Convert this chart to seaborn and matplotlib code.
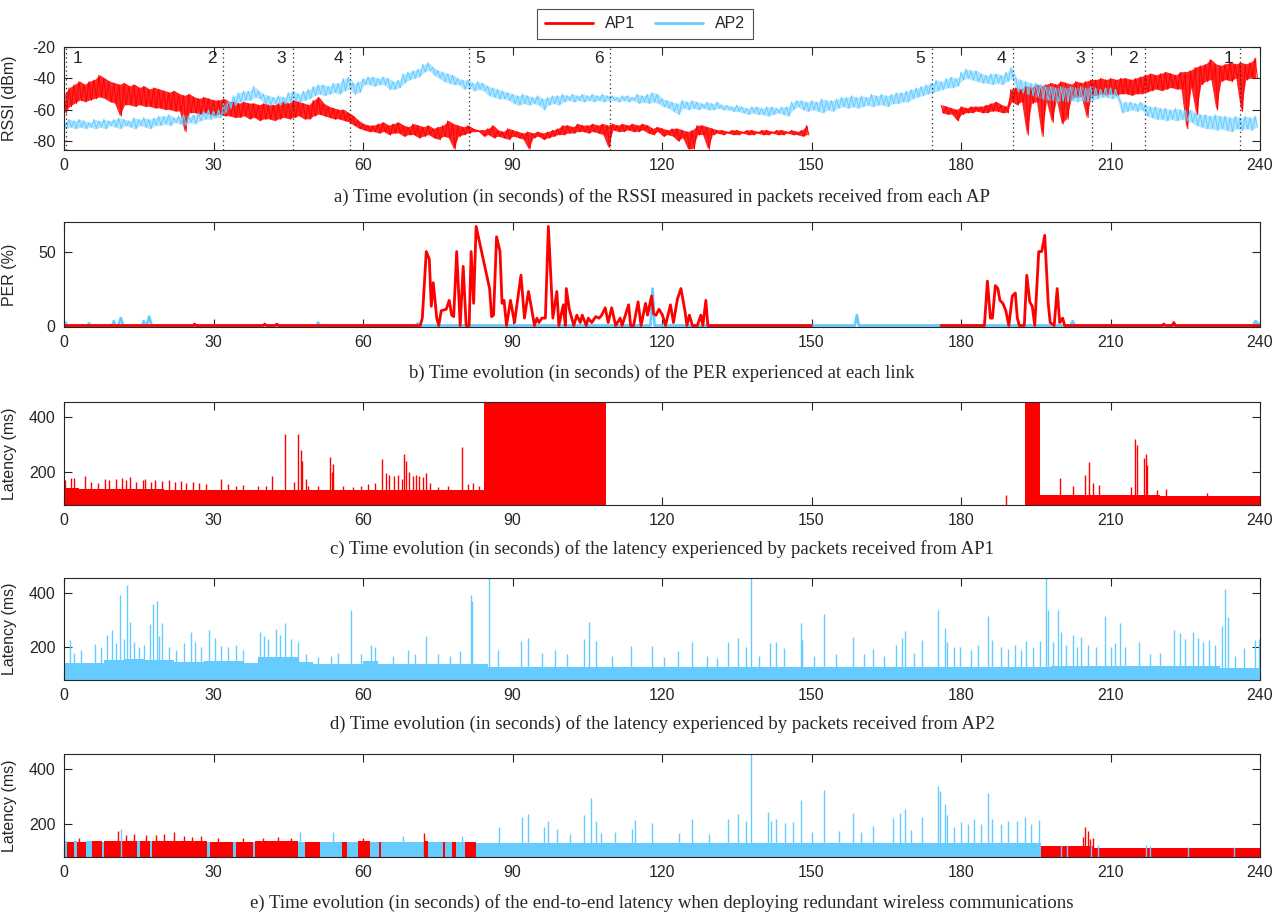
import numpy as np
import pandas as pd
import seaborn as sns
import matplotlib.pyplot as plt
from matplotlib.lines import Line2D

nan = np.nan
RED = '#FF0000'
BLUE = '#66CCFF'

# ---------------- a) RSSI, per-second upper / lower envelope (dBm) ----------------
ap1_hi = [-50, -46, -44, -42, -44, -42, -41, -38, -40, -42,
          -43, -44, -43, -45, -44, -46, -45, -47, -46, -47,
          -48, -49, -48, -50, -51, -50, -52, -53, -52, -53,
          -54, -54, -53, -55, -55, -56, -55, -56, -56, -57,
          -56, -57, -57, -56, -55, -56, -54, -55, -56, -57,
          -54, -52, -56, -58, -59, -60, -60, -62, -64, -67,
          -69, -70, -70, -69, -68, -70, -69, -68, -70, -71,
          -69, -70, -71, -70, -72, -71, -70, -67, -69, -70,
          -71, -70, -72, -73, -73, -72, -70, -73, -74, -72,
          -73, -74, -75, -74, -75, -74, -75, -74, -73, -72,
          -70, -70, -71, -69, -70, -70, -69, -70, -69, -70,
          -69, -70, -69, -70, -69, -70, -69, -70, -72, -71,
          -72, -73, -72, -72, -73, -74, -73, -70, -70, -71,
          -72, -73, -73, -74, -73, -73, -74, -73, -73, -74,
          -73, -73, -74, -73, -73, -74, -73, -74, -73, -70,
          nan, nan, nan, nan, nan, nan, nan, nan, nan, nan,
          nan, nan, nan, nan, nan, nan, nan, nan, nan, nan,
          nan, nan, nan, nan, nan, nan, -57, -58, -59, -60,
          -58, -59, -58, -58, -58, -57, -56, -55, -57, -58,
          -47, -46, -47, -45, -46, -44, -45, -44, -43, -44,
          -42, -43, -44, -42, -43, -42, -41, -41, -40, -41,
          -40, -41, -40, -40, -41, -40, -39, -38, -37, -38,
          -37, -36, -37, -38, -36, -36, -35, -33, -32, -31,
          -28, -31, -32, -31, -30, -31, -30, -31, -30, -27]
ap1_lo = [-62, -58, -56, -54, -55, -54, -53, -52, -53, -55,
          -56, -64, -57, -57, -58, -57, -58, -58, -59, -59,
          -60, -60, -61, -61, -74, -62, -62, -63, -62, -63,
          -64, -63, -64, -64, -65, -65, -64, -66, -65, -67,
          -66, -66, -67, -66, -65, -66, -65, -64, -66, -66,
          -64, -63, -64, -65, -66, -66, -67, -68, -70, -72,
          -73, -74, -74, -75, -74, -76, -75, -75, -77, -76,
          -76, -78, -77, -76, -78, -79, -77, -78, -85, -77,
          -76, -75, -74, -74, -77, -76, -78, -77, -78, -79,
          -77, -78, -79, -85, -78, -77, -79, -78, -77, -76,
          -76, -75, -75, -74, -74, -75, -74, -75, -76, -84,
          -73, -74, -74, -73, -74, -74, -73, -75, -76, -74,
          -77, -76, -77, -80, -78, -85, -85, -76, -76, -85,
          -76, -75, -76, -75, -76, -76, -75, -76, -76, -75,
          -76, -76, -75, -76, -76, -75, -76, -76, -77, -76,
          nan, nan, nan, nan, nan, nan, nan, nan, nan, nan,
          nan, nan, nan, nan, nan, nan, nan, nan, nan, nan,
          nan, nan, nan, nan, nan, nan, -62, -63, -63, -67,
          -63, -62, -62, -61, -62, -62, -61, -61, -62, -62,
          -55, -57, -55, -76, -56, -55, -77, -55, -68, -54,
          -69, -66, -53, -52, -52, -65, -51, -51, -50, -51,
          -50, -51, -50, -50, -51, -50, -50, -49, -48, -47,
          -48, -47, -46, -47, -47, -72, -46, -63, -44, -42,
          -41, -60, -42, -41, -42, -40, -61, -41, -40, -40]
ap2_hi = [-67, -66, -67, -66, -67, -68, -66, -67, -66, -67,
          -66, -65, -66, -67, -65, -66, -65, -66, -65, -64,
          -64, -63, -65, -64, -63, -64, -63, -62, -61, -60,
          -61, -60, -56, -54, -51, -49, -48, -48, -45, -48,
          -50, -51, -52, -51, -52, -49, -48, -50, -48, -47,
          -45, -44, -44, -45, -43, -43, -40, -39, -43, -42,
          -40, -39, -39, -40, -39, -40, -42, -41, -37, -36,
          -35, -34, -31, -30, -33, -35, -36, -37, -38, -40,
          -41, -41, -43, -42, -43, -45, -46, -47, -48, -49,
          -50, -51, -50, -51, -52, -51, -53, -52, -51, -51,
          -50, -51, -50, -51, -50, -51, -50, -51, -50, -51,
          -51, -52, -51, -51, -52, -50, -51, -50, -49, -50,
          -53, -54, -55, -56, -54, -55, -54, -55, -56, -55,
          -56, -55, -57, -57, -58, -57, -58, -59, -58, -58,
          -59, -58, -58, -59, -58, -58, -55, -54, -54, -55,
          -54, -55, -53, -54, -54, -53, -52, -52, -51, -52,
          -51, -52, -50, -51, -50, -51, -50, -49, -49, -48,
          -47, -46, -45, -44, -43, -41, -42, -40, -39, -40,
          -36, -34, -35, -35, -37, -38, -37, -37, -38, -36,
          -33, -40, -41, -42, -43, -43, -44, -45, -45, -46,
          -45, -46, -45, -46, -45, -46, -45, -46, -47, -46,
          -46, -47, -55, -55, -55, -56, -55, -57, -58, -58,
          -59, -59, -60, -59, -60, -60, -60, -62, -63, -63,
          -64, -63, -64, -64, -65, -64, -65, -64, -65, -64]
ap2_lo = [-72, -71, -72, -71, -72, -71, -72, -71, -72, -70,
          -71, -72, -70, -71, -72, -70, -71, -72, -70, -70,
          -69, -70, -68, -69, -70, -68, -69, -67, -66, -66,
          -65, -65, -62, -59, -57, -55, -54, -54, -52, -53,
          -56, -57, -56, -57, -56, -55, -54, -55, -54, -53,
          -51, -50, -51, -50, -49, -50, -48, -47, -50, -49,
          -44, -44, -45, -44, -44, -47, -47, -46, -43, -41,
          -40, -39, -36, -35, -38, -40, -42, -43, -44, -44,
          -47, -46, -48, -47, -48, -51, -52, -53, -53, -54,
          -56, -57, -56, -57, -56, -57, -60, -57, -56, -57,
          -55, -54, -55, -54, -55, -54, -55, -54, -55, -54,
          -54, -55, -54, -55, -54, -56, -55, -56, -55, -56,
          -58, -59, -61, -63, -59, -60, -59, -60, -59, -60,
          -60, -59, -60, -60, -61, -61, -62, -63, -62, -63,
          -63, -64, -63, -62, -63, -64, -60, -58, -60, -61,
          -60, -61, -62, -60, -61, -59, -58, -59, -58, -59,
          -58, -57, -58, -57, -57, -58, -56, -56, -55, -55,
          -53, -52, -51, -50, -49, -48, -47, -46, -46, -45,
          -41, -40, -41, -42, -43, -43, -44, -43, -44, -42,
          -40, -48, -49, -50, -51, -52, -53, -54, -54, -55,
          -54, -55, -54, -55, -54, -55, -54, -53, -52, -52,
          -53, -52, -62, -61, -60, -61, -60, -64, -65, -66,
          -66, -67, -66, -67, -66, -67, -68, -70, -71, -72,
          -72, -73, -72, -73, -74, -72, -73, -72, -73, -71]

# position markers on the RSSI plot
pos_time = [0.4, 32.0, 45.9, 57.3, 81.3, 109.6, 174.1, 190.4, 206.3, 216.9, 235.9]
pos_label = ['1', '2', '3', '4', '5', '6', '5', '4', '3', '2', '1']
pos_side = [1, -1, -1, -1, 1, -1, -1, -1, -1, -1, -1]

# ---------------- b) PER (%) ----------------
per1a_t = [0.4, 26.0, 26.2, 26.5, 40.0, 40.3, 40.6, 42.4, 42.7, 43.0,
           71.5, 71.9, 72.7, 73.3, 73.7, 74.1, 74.8, 75.2, 75.7, 76.7,
           77.3, 77.8, 78.2, 78.8, 79.5, 80.1, 80.7, 81.3, 81.7, 82.2,
           82.7, 85.4, 85.8, 86.2, 86.8, 87.5, 87.9, 88.3, 88.8, 89.6,
           90.4, 91.7, 92.4, 93.2, 93.8, 94.4, 94.9, 95.3, 95.9, 96.6,
           97.2, 98.1, 98.9, 99.3, 100.2, 100.6, 100.8, 101.4, 102.3, 102.9,
           103.6, 104.0, 104.8, 105.2, 105.9, 106.7, 107.4, 107.9, 108.6, 109.2,
           109.9, 110.7, 111.6, 112.0, 113.3, 113.7, 114.3, 115.2, 115.8, 116.7,
           117.1, 117.9, 118.3, 118.8, 119.4, 120.1, 120.7, 121.7, 122.3, 123.1,
           123.8, 124.6, 125.0, 125.5, 126.1, 127.1, 127.8, 128.2, 128.8, 129.2,
           150.0]
per1a_v = [0, 0, 1, 0, 0, 1, 0, 0, 1, 0,
           0, 5, 50, 45, 13, 29, 5, 0, 10, 11,
           17, 7, 6, 50, 0, 40, 0, 0, 50, 15,
           67, 25, 6, 7, 60, 50, 15, 17, 0, 17,
           2, 34, 5, 23, 12, 0, 5, 2, 5, 5,
           67, 5, 23, 0, 14, 0, 25, 11, 0, 7,
           2, 7, 0, 5, 2, 6, 5, 7, 12, 2,
           12, 0, 5, 0, 14, 0, 0, 16, 0, 15,
           7, 20, 8, 7, 11, 7, 0, 14, 2, 18,
           25, 10, 0, 7, 0, 0, 7, 0, 17, 0,
           0]
per1b_t = [176.0, 184.7, 185.3, 185.9, 186.3, 186.9, 187.4, 187.8, 188.4, 189.0,
           189.6, 190.3, 190.9, 191.3, 191.7, 192.7, 193.2, 193.8, 194.3, 194.8,
           195.6, 196.2, 196.8, 197.5, 197.9, 198.7, 199.3, 199.8, 200.4, 200.8,
           220.4, 220.7, 221.0, 222.4, 222.7, 223.0, 240.0]
per1b_v = [0, 0, 30, 5, 5, 27, 25, 17, 15, 10,
           0, 20, 22, 5, 0, 0, 34, 16, 13, 0,
           50, 50, 61, 15, 2, 0, 25, 2, 5, 0,
           0, 1, 0, 0, 2, 0, 0]
per2_t = [0, 0.3, 0.6, 4.7, 5.0, 5.3, 9.7, 10.0, 10.3, 10.9, 11.4, 11.9,
          15.7, 16.0, 16.3, 16.6, 17.1, 17.6, 50.7, 51.0, 51.3, 70.7, 71.0, 71.3,
          117.7, 118.1, 118.5, 158.7, 159.1, 159.5, 202.0, 202.4, 202.8, 238.6, 239.1, 240]
per2_v = [0, 2, 0, 0, 1.5, 0, 0, 3, 0, 0, 5, 0,
          0, 3, 0, 0, 6, 0, 0, 2, 0, 0, 1.5, 0,
          0, 25, 0, 0, 7, 0, 0, 3, 0, 0, 3, 0]

# ---------------- c) latency AP1 (ms): base level per stretch + spikes ----------------
lat1_seg_start = [0, 3, 8, 20, 30, 45, 50, 60, 75, 84.3, 192.8, 195.8, 205, 220]
lat1_seg_end = [3, 8, 20, 30, 45, 50, 60, 75, 84.3, 108.8, 195.8, 205, 220, 240]
lat1_seg_level = [142, 138, 140, 136, 134, 136, 133, 135, 136, 1000, 1000, 118, 115, 112]
lat1_spike_t = [0.3, 1.5, 2.1, 4.2, 5.5, 6.8, 8.3, 9.1, 10.5, 11.6,
                12.4, 13.2, 14.5, 15.8, 16.3, 17.5, 18.2, 19.6, 21.0, 22.3,
                23.5, 24.4, 25.8, 27.0, 28.5, 31.5, 33.0, 34.5, 36.0, 39.0,
                40.5, 41.8, 44.4, 46.2, 47.0, 47.5, 47.8, 48.5, 49.0, 51.0,
                53.3, 53.7, 54.0, 56.0, 58.0, 59.5, 61.0, 62.5, 63.8, 64.7,
                65.3, 66.2, 67.0, 67.8, 68.2, 68.7, 69.3, 70.0, 70.6, 71.3,
                72.0, 72.7, 73.5, 75.0, 77.0, 79.9, 81.0, 82.0, 83.2, 189.0,
                199.8, 202.5, 204.9, 205.6, 206.4, 207.7, 214.2, 215.0, 215.3, 216.8,
                217.1, 217.4, 219.4, 221.1, 229.4]
lat1_spike_v = [170, 180, 178, 185, 165, 160, 175, 172, 175, 180,
                170, 182, 165, 170, 175, 165, 170, 168, 172, 165,
                168, 160, 165, 160, 158, 175, 155, 150, 152, 148,
                150, 185, 340, 165, 337, 280, 240, 175, 150, 150,
                253, 200, 230, 150, 145, 150, 155, 160, 246, 195,
                190, 185, 190, 175, 264, 240, 200, 185, 190, 185,
                182, 195, 160, 145, 150, 291, 155, 160, 150, 115,
                178, 149, 190, 236, 161, 154, 145, 321, 297, 251,
                267, 224, 133, 139, 125]

# ---------------- d) latency AP2 (ms) ----------------
lat2_seg_start = [0, 8, 12, 16, 22, 28, 36, 39, 47, 50, 60, 63, 85, 198, 232]
lat2_seg_end = [8, 12, 16, 22, 28, 36, 39, 47, 50, 60, 63, 85, 198, 232, 240]
lat2_seg_level = [143, 152, 158, 152, 147, 150, 143, 165, 145, 137, 150, 137, 128, 130, 125]
lat2_spike_t = [1.3, 2.0, 3.5, 6.2, 7.5, 8.7, 9.7, 10.4, 11.2, 12.0,
                12.7, 13.3, 14.0, 15.0, 16.0, 17.2, 17.8, 18.6, 19.1, 19.7,
                21.0, 22.5, 24.0, 25.4, 26.3, 27.5, 29.0, 30.3, 31.5, 33.0,
                34.5, 36.0, 39.3, 40.2, 41.0, 42.5, 43.3, 44.4, 45.5, 46.9,
                48.5, 51.0, 53.5, 55.0, 57.5, 59.5, 61.6, 62.5, 66.0, 69.0,
                70.5, 72.7, 75.0, 77.5, 79.5, 81.6, 81.8, 85.2, 87.1, 91.7,
                93.2, 96.0, 98.5, 101.0, 104.4, 105.4, 106.8, 110.0, 113.7, 118.0,
                120.5, 123.3, 126.1, 129.0, 131.0, 133.2, 135.2, 136.9, 137.9, 139.5,
                141.6, 142.8, 144.5, 147.8, 148.0, 150.5, 152.6, 155.0, 158.4, 160.5,
                162.3, 164.5, 166.9, 168.1, 168.7, 170.5, 172.2, 175.3, 176.8, 177.2,
                178.5, 179.7, 182.0, 183.5, 185.5, 186.3, 188.0, 189.5, 190.9, 192.0,
                193.0, 194.5, 195.8, 197.1, 197.5, 198.5, 199.4, 200.0, 201.0, 202.5,
                203.3, 204.1, 205.5, 207.0, 208.9, 210.0, 211.0, 212.0, 213.0, 215.7,
                218.0, 220.0, 222.7, 224.0, 225.0, 226.5, 227.5, 228.5, 229.8, 231.0,
                232.3, 232.9, 233.5, 235.0, 236.8, 238.9, 239.7]
lat2_spike_v = [228, 180, 190, 213, 200, 246, 264, 215, 394, 230,
                428, 295, 220, 200, 210, 285, 361, 370, 240, 289,
                200, 190, 215, 258, 220, 200, 264, 234, 205, 200,
                210, 190, 256, 240, 230, 269, 245, 289, 230, 218,
                175, 165, 170, 180, 337, 175, 210, 200, 170, 190,
                175, 242, 175, 170, 185, 392, 371, 460, 189, 222,
                234, 180, 190, 175, 232, 295, 222, 170, 204, 205,
                165, 187, 221, 170, 160, 221, 235, 202, 460, 170,
                217, 221, 196, 290, 227, 170, 324, 175, 239, 175,
                193, 170, 208, 233, 259, 180, 227, 336, 273, 221,
                200, 200, 190, 210, 314, 227, 200, 195, 208, 190,
                224, 200, 224, 460, 336, 220, 338, 257, 210, 245,
                200, 239, 210, 200, 314, 200, 215, 290, 200, 221,
                175, 180, 265, 253, 230, 257, 235, 220, 227, 210,
                278, 415, 312, 170, 196, 227, 229]

# ---------------- e) end-to-end latency (ms), coloured by delivering AP ----------------
e_seg_start = [0.0, 0.6, 2.0, 2.7, 4.4, 5.6, 7.6, 8.0, 14.6, 15.3,
               17.2, 17.6, 28.6, 29.3, 34.0, 34.6, 38.0, 38.4, 47.0, 48.4,
               51.4, 55.8, 56.8, 58.9, 61.4, 63.3, 63.6, 72.2, 73.0, 76.0,
               76.4, 77.9, 78.7, 80.5, 82.6, 196.0, 206.5]
e_seg_ap = [2, 1, 2, 1, 2, 1, 2, 1, 2, 1,
            2, 1, 2, 1, 2, 1, 2, 1, 2, 1,
            2, 1, 2, 1, 2, 1, 2, 1, 2, 1,
            2, 1, 2, 1, 2, 1, 1]
e_seg_level = [140, 135, 138, 135, 138, 138, 135, 140, 138, 140,
               140, 138, 135, 135, 135, 135, 135, 140, 135, 133,
               133, 133, 133, 138, 133, 133, 135, 140, 133, 133,
               133, 133, 133, 133, 130, 120, 112]
e_spike_t = [0.1, 3.0, 10.8, 11.4, 12.5, 14.0, 16.5, 18.5, 20.0, 22.1,
             24.0, 25.6, 27.5, 31.0, 36.0, 40.0, 43.0, 45.5, 47.3, 53.9,
             60.0, 68.0, 72.3, 79.9, 87.3, 91.9, 93.2, 96.4, 97.2, 98.9,
             101.5, 104.4, 105.7, 106.8, 107.8, 110.5, 113.9, 114.5, 118.0, 123.4,
             126.1, 129.5, 133.2, 135.2, 136.9, 137.9, 141.2, 141.9, 142.8, 144.7,
             146.3, 147.8, 150.0, 152.6, 155.5, 158.4, 160.0, 162.3, 166.4, 167.7,
             168.7, 170.0, 172.2, 175.3, 175.8, 176.8, 177.2, 178.5, 180.1, 181.5,
             182.6, 184.0, 185.5, 186.3, 188.0, 189.5, 191.3, 192.8, 194.0, 195.7,
             200.0, 201.2, 204.5, 204.9, 205.5, 205.8, 206.0, 206.4, 207.4, 217.2,
             218.0, 225.6, 234.7]
e_spike_v = [173, 150, 176, 183, 160, 165, 160, 160, 165, 171,
             158, 153, 155, 150, 150, 150, 152, 150, 171, 170,
             150, 158, 167, 155, 188, 224, 236, 191, 212, 183,
             165, 234, 294, 212, 167, 171, 183, 216, 205, 168,
             217, 165, 217, 237, 210, 460, 244, 211, 217, 205,
             207, 287, 170, 323, 175, 240, 170, 193, 222, 241,
             256, 180, 226, 338, 320, 272, 234, 190, 207, 200,
             217, 200, 313, 220, 201, 210, 211, 226, 200, 213,
             122, 122, 152, 189, 175, 146, 125, 149, 122, 122,
             120, 118, 118]
e_spike_ap = [2, 1, 1, 2, 1, 1, 1, 1, 1, 1,
              1, 1, 1, 1, 1, 1, 1, 1, 2, 2,
              1, 2, 1, 2, 2, 2, 2, 2, 2, 2,
              2, 2, 2, 2, 2, 2, 2, 2, 2, 2,
              2, 2, 2, 2, 2, 2, 2, 2, 2, 2,
              2, 2, 2, 2, 2, 2, 2, 2, 2, 2,
              2, 2, 2, 2, 2, 2, 2, 2, 2, 2,
              2, 2, 2, 2, 2, 2, 2, 2, 2, 2,
              2, 2, 1, 1, 1, 1, 2, 1, 2, 2,
              2, 2, 2]

captions = [
    'a) Time evolution (in seconds) of the RSSI measured in packets received from each AP',
    'b) Time evolution (in seconds) of the PER experienced at each link',
    'c) Time evolution (in seconds) of the latency experienced by packets received from AP1',
    'd) Time evolution (in seconds) of the latency experienced by packets received from AP2',
    'e) Time evolution (in seconds) of the end-to-end latency when deploying redundant wireless communications',
]

sns.set_theme(style='ticks')
plt.rcParams['font.family'] = ['Liberation Sans', 'DejaVu Sans']
plt.rcParams['axes.linewidth'] = 0.8
plt.rcParams['axes.edgecolor'] = '#262626'
plt.rcParams['axes.unicode_minus'] = False

W, H = 1287, 918
fig = plt.figure(figsize=(W / 100, H / 100), dpi=100)
boxes = [(47, 150), (222, 327), (402, 505), (578, 680), (754, 857)]
cap_y = [197, 373, 549, 724, 903]
axes = []
for top, bot in boxes:
    axes.append(fig.add_axes([64 / W, 1 - bot / H, 1196 / W, (bot - top) / H]))

LAT_MIN = 80
ap_color = {1: RED, 2: BLUE}


def zigzag(hi, lo):
    sec = np.arange(len(hi))
    x = np.column_stack([sec, sec + 0.5]).ravel()
    y = np.column_stack([hi, lo]).ravel()
    df = pd.DataFrame({'t': x, 'v': y})
    df['seg'] = df['v'].isna().cumsum()
    return df.dropna()


def draw_latency(ax, s, e, lvl, cols, st, sv, scols):
    s, e, lvl = np.array(s), np.array(e), np.array(lvl)
    ax.bar(s, lvl - LAT_MIN, width=e - s, bottom=LAT_MIN, align='edge',
           color=cols, linewidth=0)
    ax.vlines(st, LAT_MIN, sv, colors=scols, linewidth=1.0)


# a) RSSI
ax = axes[0]
sec = np.arange(240)
for hi, lo, col, fa in [(ap1_hi, ap1_lo, RED, 0.85), (ap2_hi, ap2_lo, BLUE, 0.5)]:
    ax.fill_between(sec + 0.25, hi, lo, color=col, alpha=fa, linewidth=0)
    sns.lineplot(data=zigzag(hi, lo), x='t', y='v', units='seg', estimator=None,
                 sort=False, color=col, linewidth=0.7, ax=ax)
for t, lab, side in zip(pos_time, pos_label, pos_side):
    ax.axvline(t, color='#262626', linestyle=(0, (1, 2.5)), linewidth=0.9)
    ax.text(t + side * 2.3, -27, lab, ha='center', va='center', fontsize=12.5)
ax.set_ylim(-85.5, -20)
ax.set_yticks([-80, -60, -40, -20])
ax.set_ylabel('RSSI (dBm)')

# b) PER
ax = axes[1]
sns.lineplot(x=per2_t, y=per2_v, color=BLUE, linewidth=2.0, estimator=None, ax=ax)
sns.lineplot(x=per1a_t, y=per1a_v, color=RED, linewidth=2.0, estimator=None, ax=ax)
sns.lineplot(x=per1b_t, y=per1b_v, color=RED, linewidth=2.0, estimator=None, ax=ax)
ax.set_ylim(-1, 70)
ax.set_yticks([0, 50])
ax.set_ylabel('PER (%)')

# c) latency AP1
draw_latency(axes[2], lat1_seg_start, lat1_seg_end, lat1_seg_level, RED,
             lat1_spike_t, lat1_spike_v, RED)
# d) latency AP2
draw_latency(axes[3], lat2_seg_start, lat2_seg_end, lat2_seg_level, BLUE,
             lat2_spike_t, lat2_spike_v, BLUE)
# e) end-to-end latency
e_seg_end = e_seg_start[1:] + [240.0]
draw_latency(axes[4], e_seg_start, e_seg_end, e_seg_level,
             [ap_color[a] for a in e_seg_ap],
             e_spike_t, e_spike_v, [ap_color[a] for a in e_spike_ap])
for ax in axes[2:]:
    ax.set_ylim(LAT_MIN, 455)
    ax.set_yticks([200, 400])
    ax.set_ylabel('Latency (ms)')

for ax, cap, cy in zip(axes, captions, cap_y):
    ax.set_xlim(0, 240)
    ax.set_xticks(range(0, 241, 30))
    ax.set_xlabel('')
    ax.tick_params(direction='in', top=True, right=True, length=6, width=0.8,
                   labelsize=11.5, colors='#262626', pad=6)
    ax.yaxis.label.set_size(11.5)
    ax.yaxis.set_label_coords(-0.039, 0.5)
    for sp in ax.spines.values():
        sp.set_visible(True)
        sp.set_color('#262626')
    fig.text(662 / W, 1 - cy / H, cap, ha='center', va='center',
             family=['Liberation Serif', 'DejaVu Serif'], fontsize=13.5)

handles = [Line2D([], [], color=RED, linewidth=2.0),
           Line2D([], [], color=BLUE, linewidth=2.0)]
leg = fig.legend(handles, ['AP1', 'AP2'], loc='center', ncol=2,
                 bbox_to_anchor=(645 / W, 1 - 24 / H), fontsize=11.5,
                 frameon=True, fancybox=False, edgecolor='#262626',
                 handlelength=3.0, columnspacing=1.2, borderpad=0.45)
leg.get_frame().set_linewidth(0.8)

fig.savefig('out.png', dpi=100)
